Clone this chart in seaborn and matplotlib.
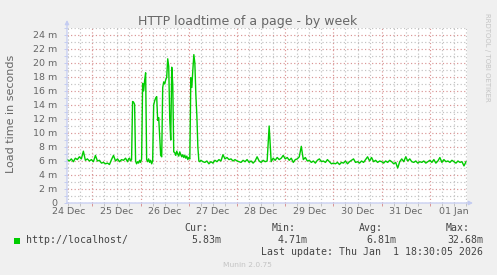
import numpy as np
import pandas as pd
import matplotlib
matplotlib.use("Agg")
import matplotlib.pyplot as plt
from matplotlib.patches import Rectangle
import seaborn as sns

# ---------------- data (load time in milliseconds, hours since 24 Dec 00:00) ----------------
values_a = [6.2, 6.0, 6.3, 5.9, 6.4, 6.2, 6.6, 6.3, 7.4, 6.1, 6.3, 6.0, 6.2, 5.9, 6.8, 6.0,
            6.1, 5.7, 5.8, 5.6, 5.7, 5.5, 6.2, 6.8, 6.0, 6.3, 5.9, 6.2, 6.1, 6.4, 5.9]
values_b = [6.3, 6.4, 6.0, 6.2, 14.5, 14.4, 14.1, 6.0,
            5.6, 5.9, 5.7, 6.1, 5.8, 6.3, 17.1, 16.0,
            17.5, 18.6, 6.2, 5.9, 6.3, 5.8, 6.1, 5.6,
            6.0, 14.0, 14.6, 15.0, 15.2, 11.8, 12.2, 9.5,
            6.8, 6.6, 16.5, 17.3, 17.0, 17.6, 18.0, 20.6,
            19.5, 12.0, 9.0, 19.4, 17.0, 7.3, 7.2, 6.8,
            7.4, 7.0, 6.7, 7.3, 6.9, 6.6, 6.9, 6.5,
            6.8, 6.4, 6.7, 6.2, 6.5, 6.3, 17.9, 16.5,
            19.0, 21.2, 20.0, 15.5, 12.5, 8.0, 6.0, 5.9,
            6.1]
values_c = [5.9, 5.8, 6.0, 5.6, 5.9, 5.7, 6.1, 5.9, 6.2, 6.0, 6.9, 6.3, 6.5, 6.2, 6.3, 6.0, 6.2, 6.0,
            5.9, 5.8, 6.1, 5.9, 6.2, 5.8, 6.0, 5.7, 6.0, 6.6, 6.0, 5.8, 6.1, 5.9, 6.0, 11.0, 5.9, 6.4,
            6.1, 6.5, 6.2, 6.4, 6.8, 6.3,
            6.5, 6.1, 6.4, 5.8, 6.2, 6.3, 6.6, 8.1, 6.2, 6.5, 6.0, 6.1, 5.8, 6.0, 5.7, 6.1, 6.3, 5.9,
            6.0, 5.8, 6.2, 5.9, 5.6, 5.7,
            5.6, 5.8, 5.5, 5.8, 5.7, 6.0, 5.6, 5.9, 6.1, 6.3, 5.8, 5.9, 5.7, 6.0, 5.8, 6.2, 6.6, 6.0,
            6.5, 5.9, 6.1, 5.8, 6.0, 5.9,
            5.7, 6.0, 5.8, 6.1, 5.9, 5.6, 5.8, 5.0, 5.9, 6.3, 5.9, 6.6, 6.0, 6.3, 5.9, 5.8, 6.0, 5.7,
            5.9, 5.8, 6.0, 5.7, 5.9, 6.1,
            5.8, 6.2, 5.7, 6.0, 6.5, 5.8, 6.2, 5.9, 6.0, 5.8, 6.1, 5.9, 5.7, 6.0, 5.8, 5.9, 5.3, 5.9]
hours_a = np.arange(11.5, 42, 1.0)
hours_b = np.arange(42, 78.5, 0.5)
hours_c = np.arange(79, 211, 1.0)

day_labels = ["24 Dec", "25 Dec", "26 Dec", "27 Dec", "28 Dec", "29 Dec", "30 Dec", "31 Dec", "01 Jan"]
y_ticks = list(range(0, 25, 2))
legend_name = "http://localhost/"
stat_names = ["Cur:", "Min:", "Avg:", "Max:"]
stat_values = ["5.83m", "4.71m", "6.81m", "32.68m"]
last_update = "Last update: Thu Jan  1 18:30:05 2026"

df = pd.DataFrame({
    "hour": np.concatenate([hours_a, hours_b, hours_c]),
    "load": np.concatenate([values_a, values_b, values_c]),
})

# ---------------- figure ----------------
W, H = 497, 275
fig = plt.figure(figsize=(W / 100, H / 100), dpi=100, facecolor="#F0F0F0")
plt.rcParams["font.family"] = ["DejaVu Sans"]

def fx(px):
    return px / W

def fy(py):
    return 1 - py / H

ax = fig.add_axes([fx(67), fy(203), 400 / W, 175 / H])
ax.set_facecolor("#FFFFFF")

FONT = "#666666"
AXIS = "#C4CCF2"
MGRID = "#D99494"
GRID = "#C2C2C2"
dots = (0, (1, 2))

x0, x1 = 11.35, 210.5
ax.set_xlim(x0, x1)
ax.set_ylim(0, 25)

# grid
midnights = [h for h in range(24, 211, 24)]
sixes = [h for h in range(12, 211, 6) if h % 24 != 0]
ax.set_xticks(midnights)
ax.set_xticks(sixes, minor=True)
ax.set_xticklabels([])
ax.set_yticks(y_ticks)
ax.set_yticks([v for v in range(1, 26, 2)], minor=True)
ax.set_yticklabels([f"{v} m" if v else "0" for v in y_ticks])

ax.grid(which="major", color=MGRID, linestyle=dots, linewidth=0.85)
ax.grid(which="minor", color=GRID, linestyle=dots, linewidth=0.85)
ax.set_axisbelow(True)

ax.tick_params(axis="y", which="both", length=2, width=0.7, color=AXIS, pad=5,
               labelsize=6.8, labelcolor=FONT)
ax.tick_params(axis="x", which="major", length=2, width=0.7, color=MGRID, pad=3)
ax.tick_params(axis="x", which="minor", length=2, width=0.7, color=GRID)

for s in ["top", "right", "left", "bottom"]:
    ax.spines[s].set_visible(False)

# data line
sns.lineplot(data=df, x="hour", y="load", color="#00CC00", linewidth=1.0,
             estimator=None, ax=ax, zorder=3)
ax.set_xlabel("")
ax.set_ylabel("")

# day labels at noon
for i, lab in enumerate(day_labels):
    ax.text(12 + 24 * i, -9 / 175 * 1.0, lab, transform=ax.get_xaxis_transform(),
            ha="center", va="center", fontsize=6.8, color=FONT)

# axes with arrows (munin style)
ax.annotate("", xy=(0, 1 + 8 / 175), xytext=(0, 0), xycoords="axes fraction",
            arrowprops=dict(arrowstyle="-|>", color=AXIS, lw=0.9, mutation_scale=6,
                            shrinkA=0, shrinkB=0), annotation_clip=False)
ax.annotate("", xy=(1 + 6 / 400, 0), xytext=(0, 0), xycoords="axes fraction",
            arrowprops=dict(arrowstyle="-|>", color=AXIS, lw=0.9, mutation_scale=6,
                            shrinkA=0, shrinkB=0), annotation_clip=False)

# title, y label, watermark
fig.text(fx(248), fy(24.5), "HTTP loadtime of a page - by week", ha="center",
         va="baseline", fontsize=9, color=FONT)
fig.text(fx(11), fy(114), "Load time in seconds", rotation=90, ha="center",
         va="center", fontsize=8, color=FONT)
fig.text(fx(487.5), fy(57.5), "RRDTOOL / TOBI OETIKER", rotation=270, ha="center",
         va="center", fontsize=5.0, color="#C4C4C4")

# legend block
mono = "DejaVu Sans Mono"
fig.patches.append(Rectangle((fx(14), fy(243.5)), 6 / W, 6 / H, transform=fig.transFigure,
                             facecolor="#00CC00", edgecolor="none"))
fig.text(fx(26), fy(243), legend_name, ha="left", va="baseline", fontsize=7.1,
         family=mono, color="#444444")
name_right = [208, 296, 383, 470]
val_right = [221, 308, 396, 483]
for nm, vv, nr, vr in zip(stat_names, stat_values, name_right, val_right):
    fig.text(fx(nr), fy(231), nm, ha="right", va="baseline", fontsize=7.1,
             family=mono, color="#444444")
    fig.text(fx(vr), fy(243), vv, ha="right", va="baseline", fontsize=7.1,
             family=mono, color="#444444")
fig.text(fx(483), fy(255), last_update, ha="right", va="baseline", fontsize=7.1,
         family=mono, color="#444444")
fig.text(fx(247.5), fy(267), "Munin 2.0.75", ha="center", va="baseline", fontsize=5.4,
         color="#C4C4C4")

fig.savefig("out.png", dpi=100, facecolor=fig.get_facecolor())
